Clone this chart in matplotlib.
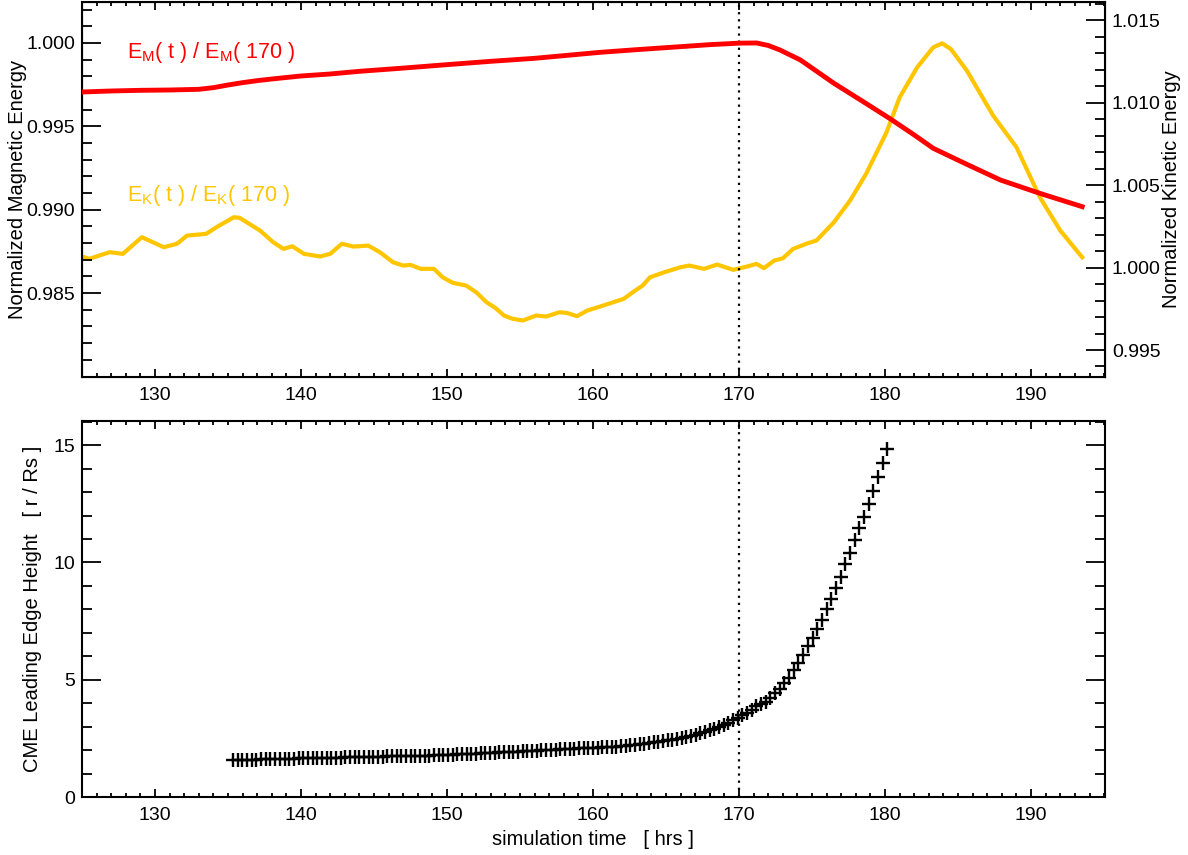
import numpy as np
import matplotlib
matplotlib.use("Agg")
import matplotlib.pyplot as plt
from matplotlib.ticker import MultipleLocator, FixedLocator

plt.rcParams['font.family'] = ['Liberation Sans', 'DejaVu Sans']
plt.rcParams['mathtext.default'] = 'regular'

# magnetic energy, normalised to t = 170 hrs (left axis)
em_time = [125.0, 127.0, 129.0, 131.0, 133.0, 134.0, 135.0, 136.0, 137.0, 138.0,
           140.0, 142.0, 144.0, 146.8, 150.0, 153.0, 156.0, 160.5, 163.0, 166.0,
           168.0, 170.0, 171.2, 172.0, 172.8, 174.2, 176.5, 178.5, 180.3, 182.0,
           183.3, 185.6, 187.9, 190.6, 193.5]
em_norm = [0.99706, 0.99712, 0.99716, 0.99718, 0.99722, 0.99732, 0.99748, 0.99762, 0.99774, 0.99784,
           0.99802, 0.99814, 0.99830, 0.99848, 0.99870, 0.99890, 0.99908, 0.99944, 0.99960, 0.99978,
           0.99990, 0.99999, 1.00000, 0.99985, 0.99958, 0.99898, 0.99758, 0.99648, 0.99548, 0.99448,
           0.99368, 0.99272, 0.99178, 0.99098, 0.99018]

# kinetic energy, normalised to t = 170 hrs (right axis)
ek_time = [125.0, 125.5, 126.9, 127.8, 129.1, 130.6, 131.5, 132.2, 133.5, 134.2,
           135.4, 135.8, 137.2, 138.1, 138.8, 139.4, 140.2, 141.3, 142.0, 142.8,
           143.6, 144.6, 145.4, 146.3, 147.0, 147.5, 148.2, 149.1, 149.7, 150.4,
           151.3, 152.0, 152.7, 153.3, 153.9, 154.5, 155.2, 156.1, 156.8, 157.7,
           158.2, 158.9, 159.6, 160.5, 161.4, 162.1, 162.8, 163.4, 163.9, 165.0,
           166.0, 166.6, 167.6, 168.5, 169.6, 170.5, 171.2, 171.7, 172.4, 173.0,
           173.7, 174.6, 175.3, 176.5, 177.6, 178.7, 180.1, 181.0, 182.2, 183.3,
           183.9, 184.5, 185.6, 187.4, 189.0, 190.6, 192.0, 193.5]
ek_norm = [1.00067, 1.00053, 1.00093, 1.00083, 1.00184, 1.00123, 1.00144, 1.00194, 1.00204, 1.00244,
           1.00305, 1.00301, 1.00224, 1.00153, 1.00113, 1.00129, 1.00083, 1.00067, 1.00083, 1.00144,
           1.00127, 1.00133, 1.00093, 1.00032, 1.00012, 1.00016, 0.99992, 0.99992, 0.99941, 0.99907,
           0.99891, 0.99850, 0.99790, 0.99756, 0.99709, 0.99689, 0.99679, 0.99709, 0.99703, 0.99729,
           0.99725, 0.99705, 0.99739, 0.99764, 0.99790, 0.99810, 0.99855, 0.99891, 0.99941, 0.99975,
           1.00002, 1.00012, 0.99992, 1.00018, 0.99986, 1.00005, 1.00022, 0.99996, 1.00042, 1.00056,
           1.00113, 1.00144, 1.00164, 1.00275, 1.00406, 1.00568, 1.00820, 1.01032, 1.01214, 1.01335,
           1.01359, 1.01325, 1.01194, 1.00921, 1.00729, 1.00426, 1.00224, 1.00062]

# CME leading edge height, sampled every 0.32 hrs from 135.35
cme_t0, cme_dt = 135.35, 0.32
cme_height = [1.57, 1.57, 1.58, 1.58, 1.59, 1.59, 1.60, 1.60, 1.61, 1.61,
              1.62, 1.63, 1.63, 1.64, 1.65, 1.65, 1.65, 1.66, 1.66, 1.67,
              1.67, 1.68, 1.68, 1.68, 1.69, 1.69, 1.70, 1.70, 1.70, 1.71,
              1.71, 1.72, 1.72, 1.73, 1.73, 1.74, 1.74, 1.74, 1.75, 1.75,
              1.76, 1.77, 1.77, 1.78, 1.79, 1.80, 1.80, 1.81, 1.82, 1.83,
              1.83, 1.84, 1.85, 1.86, 1.87, 1.88, 1.89, 1.90, 1.91, 1.92,
              1.93, 1.94, 1.95, 1.96, 1.97, 1.98, 1.99, 2.00, 2.01, 2.02,
              2.03, 2.04, 2.05, 2.06, 2.07, 2.08, 2.09, 2.10, 2.11, 2.12,
              2.13, 2.14, 2.15, 2.17, 2.19, 2.21, 2.23, 2.25, 2.28, 2.30,
              2.33, 2.35, 2.38, 2.41, 2.44, 2.48, 2.52, 2.56, 2.61, 2.66,
              2.72, 2.78, 2.85, 2.92, 3.00, 3.08, 3.17, 3.27, 3.37, 3.48,
              3.60, 3.73, 3.86, 3.95, 4.05, 4.22, 4.42, 4.62, 4.85, 5.08,
              5.40, 5.70, 6.05, 6.42, 6.80, 7.15, 7.55, 8.00, 8.45, 8.90,
              9.40, 9.92, 10.40, 10.95, 11.45, 11.95, 12.50, 13.05, 13.65, 14.25,
              14.82]
cme_time = cme_t0 + cme_dt * np.arange(len(cme_height))

t_ref = 170
red = '#ff0000'
gold = '#ffc600'

fig = plt.figure(figsize=(11.88, 8.55), dpi=100)
ax1 = fig.add_axes([0.069, 0.559, 0.861, 0.4387])
ax2 = fig.add_axes([0.069, 0.0678, 0.861, 0.4398])
ax1r = ax1.twinx()

tick_fs = 14
lab_fs = 14.5


def style_x(ax):
    ax.set_xlim(125, 195.05)
    ax.xaxis.set_major_locator(FixedLocator([130, 140, 150, 160, 170, 180, 190]))
    ax.xaxis.set_minor_locator(MultipleLocator(1))
    ax.tick_params(axis='x', which='both', direction='in', top=True, bottom=True,
                   labelsize=tick_fs, pad=7, width=1.3)
    ax.tick_params(axis='x', which='major', length=6)
    ax.tick_params(axis='x', which='minor', length=3)
    for s in ax.spines.values():
        s.set_linewidth(1.5)


# top panel
ax1.plot(em_time, em_norm, color=red, lw=3.5, zorder=3)
ax1r.plot(ek_time, ek_norm, color=gold, lw=3.0, zorder=2)
ax1.axvline(t_ref, color='k', ls=(0, (1, 2.2)), lw=1.6)
style_x(ax1)
ax1.set_ylim(0.97996, 1.00246)
ax1.yaxis.set_major_locator(FixedLocator([0.985, 0.990, 0.995, 1.000]))
ax1.yaxis.set_minor_locator(FixedLocator(np.arange(0.981, 1.0025, 0.001)))
ax1.yaxis.set_major_formatter(plt.FormatStrFormatter('%.3f'))
ax1.tick_params(axis='y', which='both', direction='in', left=True, right=False,
                labelsize=tick_fs, pad=5, width=1.3)
ax1.tick_params(axis='y', which='major', length=14)
ax1.tick_params(axis='y', which='minor', length=7)
ax1.set_ylabel('Normalized Magnetic Energy', fontsize=lab_fs)
ax1.yaxis.set_label_coords(-0.054, 0.5)

ax1r.set_ylim(0.99336, 1.0161)
ax1r.yaxis.set_major_locator(FixedLocator([0.995, 1.000, 1.005, 1.010, 1.015]))
ax1r.yaxis.set_minor_locator(FixedLocator(np.arange(0.994, 1.0161, 0.001)))
ax1r.yaxis.set_major_formatter(plt.FormatStrFormatter('%.3f'))
ax1r.tick_params(axis='y', which='both', direction='in', labelsize=tick_fs, pad=5, width=1.3)
ax1r.tick_params(axis='y', which='major', length=14)
ax1r.tick_params(axis='y', which='minor', length=7)
ax1r.set_ylabel('Normalized Kinetic Energy', fontsize=lab_fs)
ax1r.yaxis.set_label_coords(1.0557, 0.5)
ax1.set_zorder(ax1r.get_zorder() + 1)
ax1.patch.set_visible(False)

ax1.text(128.05, 0.9994, 'E$_{M}$( t ) / E$_{M}$( 170 )', color=red,
         fontsize=15.5, va='center', ha='left')
ax1.text(128.05, 0.99088, 'E$_{K}$( t ) / E$_{K}$( 170 )', color=gold,
         fontsize=15.5, va='center', ha='left')

# bottom panel
ax2.plot(cme_time, cme_height, ls='none', marker='+', color='k',
         markersize=10.5, markeredgewidth=1.7)
ax2.axvline(t_ref, color='k', ls=(0, (1, 2.2)), lw=1.6)
style_x(ax2)
ax2.set_ylim(0, 16.03)
ax2.yaxis.set_major_locator(FixedLocator([0, 5, 10, 15]))
ax2.yaxis.set_minor_locator(MultipleLocator(1))
ax2.tick_params(axis='y', which='both', direction='in', left=True, right=True,
                labelsize=tick_fs, pad=5, width=1.3)
ax2.tick_params(axis='y', which='major', length=14)
ax2.tick_params(axis='y', which='minor', length=7)
ax2.set_ylabel('CME Leading Edge Height   [ r / Rs ]', fontsize=lab_fs)
ax2.yaxis.set_label_coords(-0.0394, 0.5)
ax2.set_xlabel('simulation time   [ hrs ]', fontsize=lab_fs)
ax2.xaxis.set_label_coords(0.5, -0.088)

fig.savefig('out.png', dpi=100)
